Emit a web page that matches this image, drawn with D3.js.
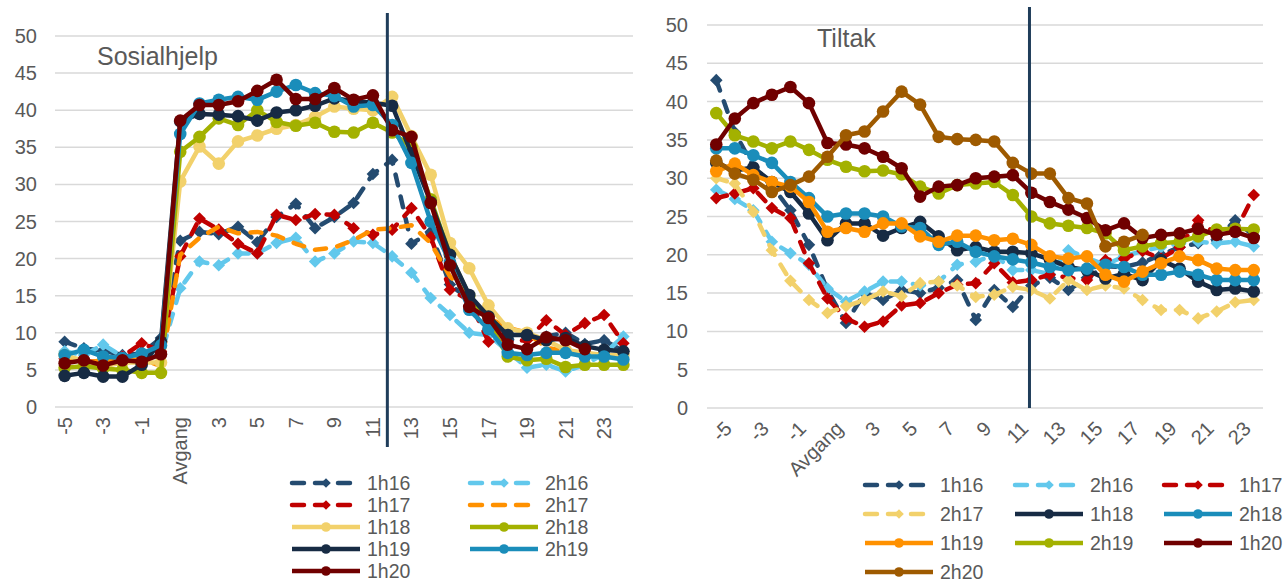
<!DOCTYPE html>
<html>
<head>
<meta charset="utf-8">
<script src="https://cdn.jsdelivr.net/npm/d3@7"></script>
<style>
  body { margin: 0; background: #fff; }
  svg  { display: block; font-family: "Liberation Sans", Arial, sans-serif; }
</style>
</head>
<body>
<svg id="chart" width="1288" height="582"></svg>
<script>
// ── Data ──────────────────────────────────────────────────────
// Months relative to exit ("Avgang"), share in percent
const CATS = ["-5","-4","-3","-2","-1","0","Avgang","2","3","4","5","6","7","8","9","10",
              "11","12","13","14","15","16","17","18","19","20","21","22","23","24"];
const Y_TICKS = [0, 5, 10, 15, 20, 25, 30, 35, 40, 45, 50];

const SOS_NAMES = ["1h16","2h16","1h17","2h17","1h18","2h18","1h19","2h19","1h20"];
const TIL_NAMES = ["1h16","2h16","1h17","2h17","1h18","2h18","1h19","2h19","1h20","2h20"];

// Sosialhjelp
const SOS_1H16 = [8.8,7.9,7.6,7.0,7.2,9.3,22.4,23.6,23.3,24.3,22.2,25.6,27.4,24.1,25.6,27.5,31.4,33.3,22.0,23.6,16.5,14.5,10.5,9.0,9.5,9.5,10.0,8.5,9.0,7.5];
const SOS_2H16 = [7.5,7.0,8.4,6.8,6.5,7.0,16.0,19.6,19.1,20.7,20.7,22.1,22.8,19.6,20.7,22.3,22.1,20.3,18.1,14.7,12.4,10.0,9.7,7.5,5.3,5.7,4.8,5.7,7.2,9.5];
const SOS_1H17 = [6.5,6.2,6.0,6.8,8.6,7.5,20.3,25.4,23.9,22.0,20.7,25.9,25.2,26.0,25.9,24.1,23.2,23.9,26.8,22.9,15.8,14.4,8.8,8.8,9.0,11.7,9.7,11.3,12.4,8.6];
const SOS_2H17 = [6.5,6.0,6.3,6.0,6.5,5.5,20.5,22.8,24.3,23.4,23.6,23.1,22.0,21.2,21.5,22.5,23.9,24.1,24.5,22.1,17.6,14.9,12.0,10.7,10.0,8.0,7.5,7.0,6.8,6.8];
const SOS_1H18 = [7.0,6.2,5.5,6.0,6.0,6.0,30.4,35.1,32.8,35.8,36.6,37.5,38.0,39.1,40.5,40.2,40.0,41.8,36.5,31.3,22.1,18.7,13.7,10.6,10.0,9.0,7.7,7.3,7.0,7.0];
const SOS_2H18 = [5.3,5.5,5.2,5.0,4.6,4.6,34.4,36.4,38.9,38.0,40.0,38.4,37.9,38.3,37.1,37.0,38.3,37.0,35.0,28.0,20.5,15.0,11.5,6.8,6.3,6.5,5.4,5.7,5.7,5.7];
const SOS_1H19 = [4.2,4.6,4.1,4.1,5.7,8.8,38.5,39.5,39.4,39.2,38.6,39.7,40.0,40.6,41.6,41.2,41.0,40.6,34.2,27.6,20.5,15.1,12.2,9.7,9.7,9.0,9.3,8.2,7.7,7.5];
const SOS_2H19 = [7.0,7.7,6.8,6.6,7.2,8.3,36.8,40.9,41.4,41.8,41.4,42.5,43.4,42.3,41.9,40.5,40.7,38.0,32.9,25.0,19.5,13.1,10.5,7.3,7.0,7.3,7.3,6.8,6.8,6.4];
const SOS_1H20 = [5.9,6.3,5.6,6.3,6.1,7.1,38.6,40.7,40.7,41.2,42.6,44.1,41.5,41.5,43.0,41.4,42.0,37.3,36.4,27.5,19.1,13.5,12.0,8.4,7.8,9.4,9.0,7.8,null,null];

// Tiltak
const TIL_1H16 = [42.8,36.0,31.5,29.0,25.8,21.3,15.4,11.1,15.0,14.1,15.4,15.0,15.7,16.7,11.5,15.4,13.2,16.0,17.0,15.4,17.0,18.5,18.4,19.0,20.0,21.0,21.5,22.0,24.5,22.5];
const TIL_2H16 = [28.5,27.3,25.8,21.7,20.2,18.7,15.6,13.9,15.2,16.5,16.5,16.0,16.5,18.7,19.1,20.0,18.0,18.0,17.5,20.6,19.6,18.7,19.8,20.5,21.0,21.5,21.7,21.5,21.7,21.1];
const TIL_1H17 = [27.4,28.0,28.7,26.1,24.8,18.9,14.3,11.7,10.6,11.3,13.4,13.7,15.0,16.1,16.3,18.9,16.4,16.7,17.4,17.0,16.7,19.3,19.5,20.5,19.5,21.0,24.5,22.7,23.0,27.8];
const TIL_2H17 = [30.0,29.3,25.6,20.6,16.6,14.1,12.4,13.3,14.1,15.2,14.6,16.3,16.5,16.0,14.5,14.8,15.8,15.4,14.3,16.7,15.4,16.0,15.6,14.1,12.8,12.8,11.7,12.6,13.8,14.1];
const TIL_1H18 = [32.0,31.0,31.4,29.5,28.2,25.4,21.9,24.1,24.1,22.5,23.5,24.3,22.4,20.6,21.0,20.4,20.4,20.2,19.4,18.4,18.0,16.9,17.5,16.7,19.3,18.2,16.5,15.4,15.6,15.2];
const TIL_2H18 = [33.9,33.9,33.0,32.0,29.5,27.4,25.0,25.4,25.4,25.0,23.7,23.5,21.3,21.7,20.4,19.8,19.4,19.0,18.4,18.0,18.2,18.7,18.4,17.4,17.4,17.8,17.4,16.7,16.7,16.7];
const TIL_1H19 = [30.9,31.9,30.4,29.5,28.9,26.9,23.0,23.5,23.0,24.1,24.1,22.4,21.7,22.5,22.5,21.9,22.1,21.3,19.8,19.5,19.8,17.4,16.5,17.8,18.9,19.8,19.3,18.2,18.0,18.0];
const TIL_2H19 = [38.5,35.6,34.8,33.9,34.8,33.7,32.4,31.5,30.9,31.0,30.5,28.9,28.0,29.1,29.3,29.5,27.8,25.0,24.1,23.8,23.5,22.8,20.6,21.1,21.5,21.7,22.4,23.3,23.4,23.3];
const TIL_1H20 = [34.4,37.8,39.8,40.9,41.9,39.8,34.6,34.4,33.9,32.8,31.3,27.6,28.9,29.1,30.0,30.2,30.4,28.1,26.9,25.9,24.8,23.2,24.1,22.2,22.6,22.8,23.4,22.6,23.0,22.2];
const TIL_2H20 = [32.3,30.6,29.8,28.2,29.1,30.2,32.8,35.6,36.1,38.7,41.3,39.6,35.4,35.1,35.0,34.8,32.0,30.6,30.6,27.4,26.7,21.1,21.7,22.6,null,null,null,null,null,null];

// Position of the vertical marker line, as a category index
const SOS_CUT = 16.75;
const TIL_CUT = 16.9;

// ── Styles ────────────────────────────────────────────────────
const NAVY = "#172b44", TEAL = "#1a8dba", OLIVE = "#a3b100", YELLOW = "#f2d16b",
      ORANGE = "#ff9100", DKRED = "#700000", RED = "#c00000", SLATE = "#244b70",
      SKY = "#62c8ec", BROWN = "#9e5a00";

const SOS_STYLE = {
  "1h16": { color: SLATE,  dash: true,  mark: "diamond" },
  "2h16": { color: SKY,    dash: true,  mark: "diamond" },
  "1h17": { color: RED,    dash: true,  mark: "diamond" },
  "2h17": { color: ORANGE, dash: true,  mark: null },
  "1h18": { color: YELLOW, dash: false, mark: "circle" },
  "2h18": { color: OLIVE,  dash: false, mark: "circle" },
  "1h19": { color: NAVY,   dash: false, mark: "circle" },
  "2h19": { color: TEAL,   dash: false, mark: "circle" },
  "1h20": { color: DKRED,  dash: false, mark: "circle" },
};
const TIL_STYLE = {
  "1h16": { color: SLATE,  dash: true,  mark: "diamond" },
  "2h16": { color: SKY,    dash: true,  mark: "diamond" },
  "1h17": { color: RED,    dash: true,  mark: "diamond" },
  "2h17": { color: YELLOW, dash: true,  mark: "diamond" },
  "1h18": { color: NAVY,   dash: false, mark: "circle" },
  "2h18": { color: TEAL,   dash: false, mark: "circle" },
  "1h19": { color: ORANGE, dash: false, mark: "circle" },
  "2h19": { color: OLIVE,  dash: false, mark: "circle" },
  "1h20": { color: DKRED,  dash: false, mark: "circle" },
  "2h20": { color: BROWN,  dash: false, mark: "circle" },
};

const TXT = "#595959";
const svg = d3.select("#chart");

// draws a marker (circle or diamond) at 0,0 inside sel
function marker(sel, kind, color, r) {
  if (kind === "circle") {
    sel.append("circle").attr("r", r).attr("fill", color);
  } else if (kind === "diamond") {
    sel.append("path").attr("d", `M0,${-r}L${r},0L0,${r}L${-r},0Z`).attr("fill", color);
  }
}

function styleLine(path, st) {
  path.attr("fill", "none")
    .attr("stroke", st.color)
    .attr("stroke-width", 4.5)
    .attr("stroke-linejoin", "round")
    .attr("stroke-linecap", st.dash ? "round" : "butt")
    .attr("stroke-dasharray", st.dash ? "11 11.5" : null);
}

// ── Chart Builder ─────────────────────────────────────────────
function buildChart(o) {
  const g = svg.append("g");
  const xs = d3.scalePoint().domain(CATS).range([o.left, o.right]).padding(0.5);
  const ys = d3.scaleLinear().domain([0, 50]).range([o.bottom, o.top]);
  const xi = d3.scaleLinear().domain([0, CATS.length - 1])
    .range([xs(CATS[0]), xs(CATS[CATS.length - 1])]);

  // grid + y labels
  Y_TICKS.forEach(t => {
    g.append("line")
      .attr("x1", o.left).attr("x2", o.right)
      .attr("y1", ys(t)).attr("y2", ys(t))
      .attr("stroke", "#d9d9d9").attr("stroke-width", 1.5);
    g.append("text")
      .attr("x", o.tickX).attr("y", ys(t)).attr("dy", "0.35em")
      .attr("text-anchor", "end").attr("fill", TXT).attr("font-size", "20px")
      .text(t);
  });

  // x labels, every second category
  CATS.forEach((c, i) => {
    if (i % 2) return;
    const t = g.append("text")
      .attr("text-anchor", "end").attr("fill", TXT).attr("font-size", "20px")
      .text(c);
    if (o.rotate === -90) {
      t.attr("transform", `translate(${xs(c)},${o.bottom + 10}) rotate(-90)`).attr("dy", "0.35em");
    } else {
      t.attr("transform", `translate(${xs(c) + 7},${o.bottom + 12}) rotate(-45)`).attr("dy", "0.7em");
    }
  });

  // title
  g.append("text")
    .attr("x", o.titleX).attr("y", o.titleY)
    .attr("fill", TXT).attr("font-size", "25px")
    .text(o.title);

  // series
  const line = d3.line().defined(d => d.v != null).x(d => xs(d.c)).y(d => ys(d.v));
  o.names.forEach((name, i) => {
    const st = o.style[name];
    const pts = CATS.map((c, j) => ({ c, v: o.data[i][j] }));
    styleLine(g.append("path").attr("d", line(pts)), st);
    if (st.mark) {
      pts.filter(p => p.v != null).forEach(p => {
        const m = g.append("g").attr("transform", `translate(${xs(p.c)},${ys(p.v)})`);
        marker(m, st.mark, st.color, 6.3);
      });
    }
  });

  // vertical marker line
  g.append("line")
    .attr("x1", xi(o.cut)).attr("x2", xi(o.cut))
    .attr("y1", o.cutTop).attr("y2", o.cutBottom)
    .attr("stroke", "#1f3d5a").attr("stroke-width", 3);

  // legend, row-major
  o.names.forEach((name, i) => {
    const st = o.style[name];
    const lx = o.legX[i % o.legX.length];
    const ly = o.legY0 + Math.floor(i / o.legX.length) * o.legDy;
    const lg = g.append("g").attr("transform", `translate(${lx},${ly})`);
    styleLine(lg.append("path").attr("d", "M2,0L70,0"), st);
    if (st.dash) lg.select("path").attr("stroke-dasharray", "12 11");
    if (st.mark) marker(lg.append("g").attr("transform", "translate(36,0)"), st.mark, st.color, 4.8);
    lg.append("text").attr("x", 77).attr("dy", "0.35em")
      .attr("fill", TXT).attr("font-size", "19.5px").text(name);
  });
}

buildChart({
  left: 55, right: 633, top: 36, bottom: 407, tickX: 37, rotate: -90,
  title: "Sosialhjelp", titleX: 97, titleY: 65,
  names: SOS_NAMES, style: SOS_STYLE,
  data: [SOS_1H16, SOS_2H16, SOS_1H17, SOS_2H17, SOS_1H18, SOS_2H18, SOS_1H19, SOS_2H19, SOS_1H20],
  cut: SOS_CUT, cutTop: 13, cutBottom: 447,
  legX: [290, 468], legY0: 483, legDy: 22,
});

buildChart({
  left: 707, right: 1263, top: 25, bottom: 408, tickX: 688, rotate: -45,
  title: "Tiltak", titleX: 817, titleY: 47,
  names: TIL_NAMES, style: TIL_STYLE,
  data: [TIL_1H16, TIL_2H16, TIL_1H17, TIL_2H17, TIL_1H18, TIL_2H18, TIL_1H19, TIL_2H19, TIL_1H20, TIL_2H20],
  cut: TIL_CUT, cutTop: 7, cutBottom: 408,
  legX: [863, 1013, 1162], legY0: 485, legDy: 29,
});
</script>
</body>
</html>
